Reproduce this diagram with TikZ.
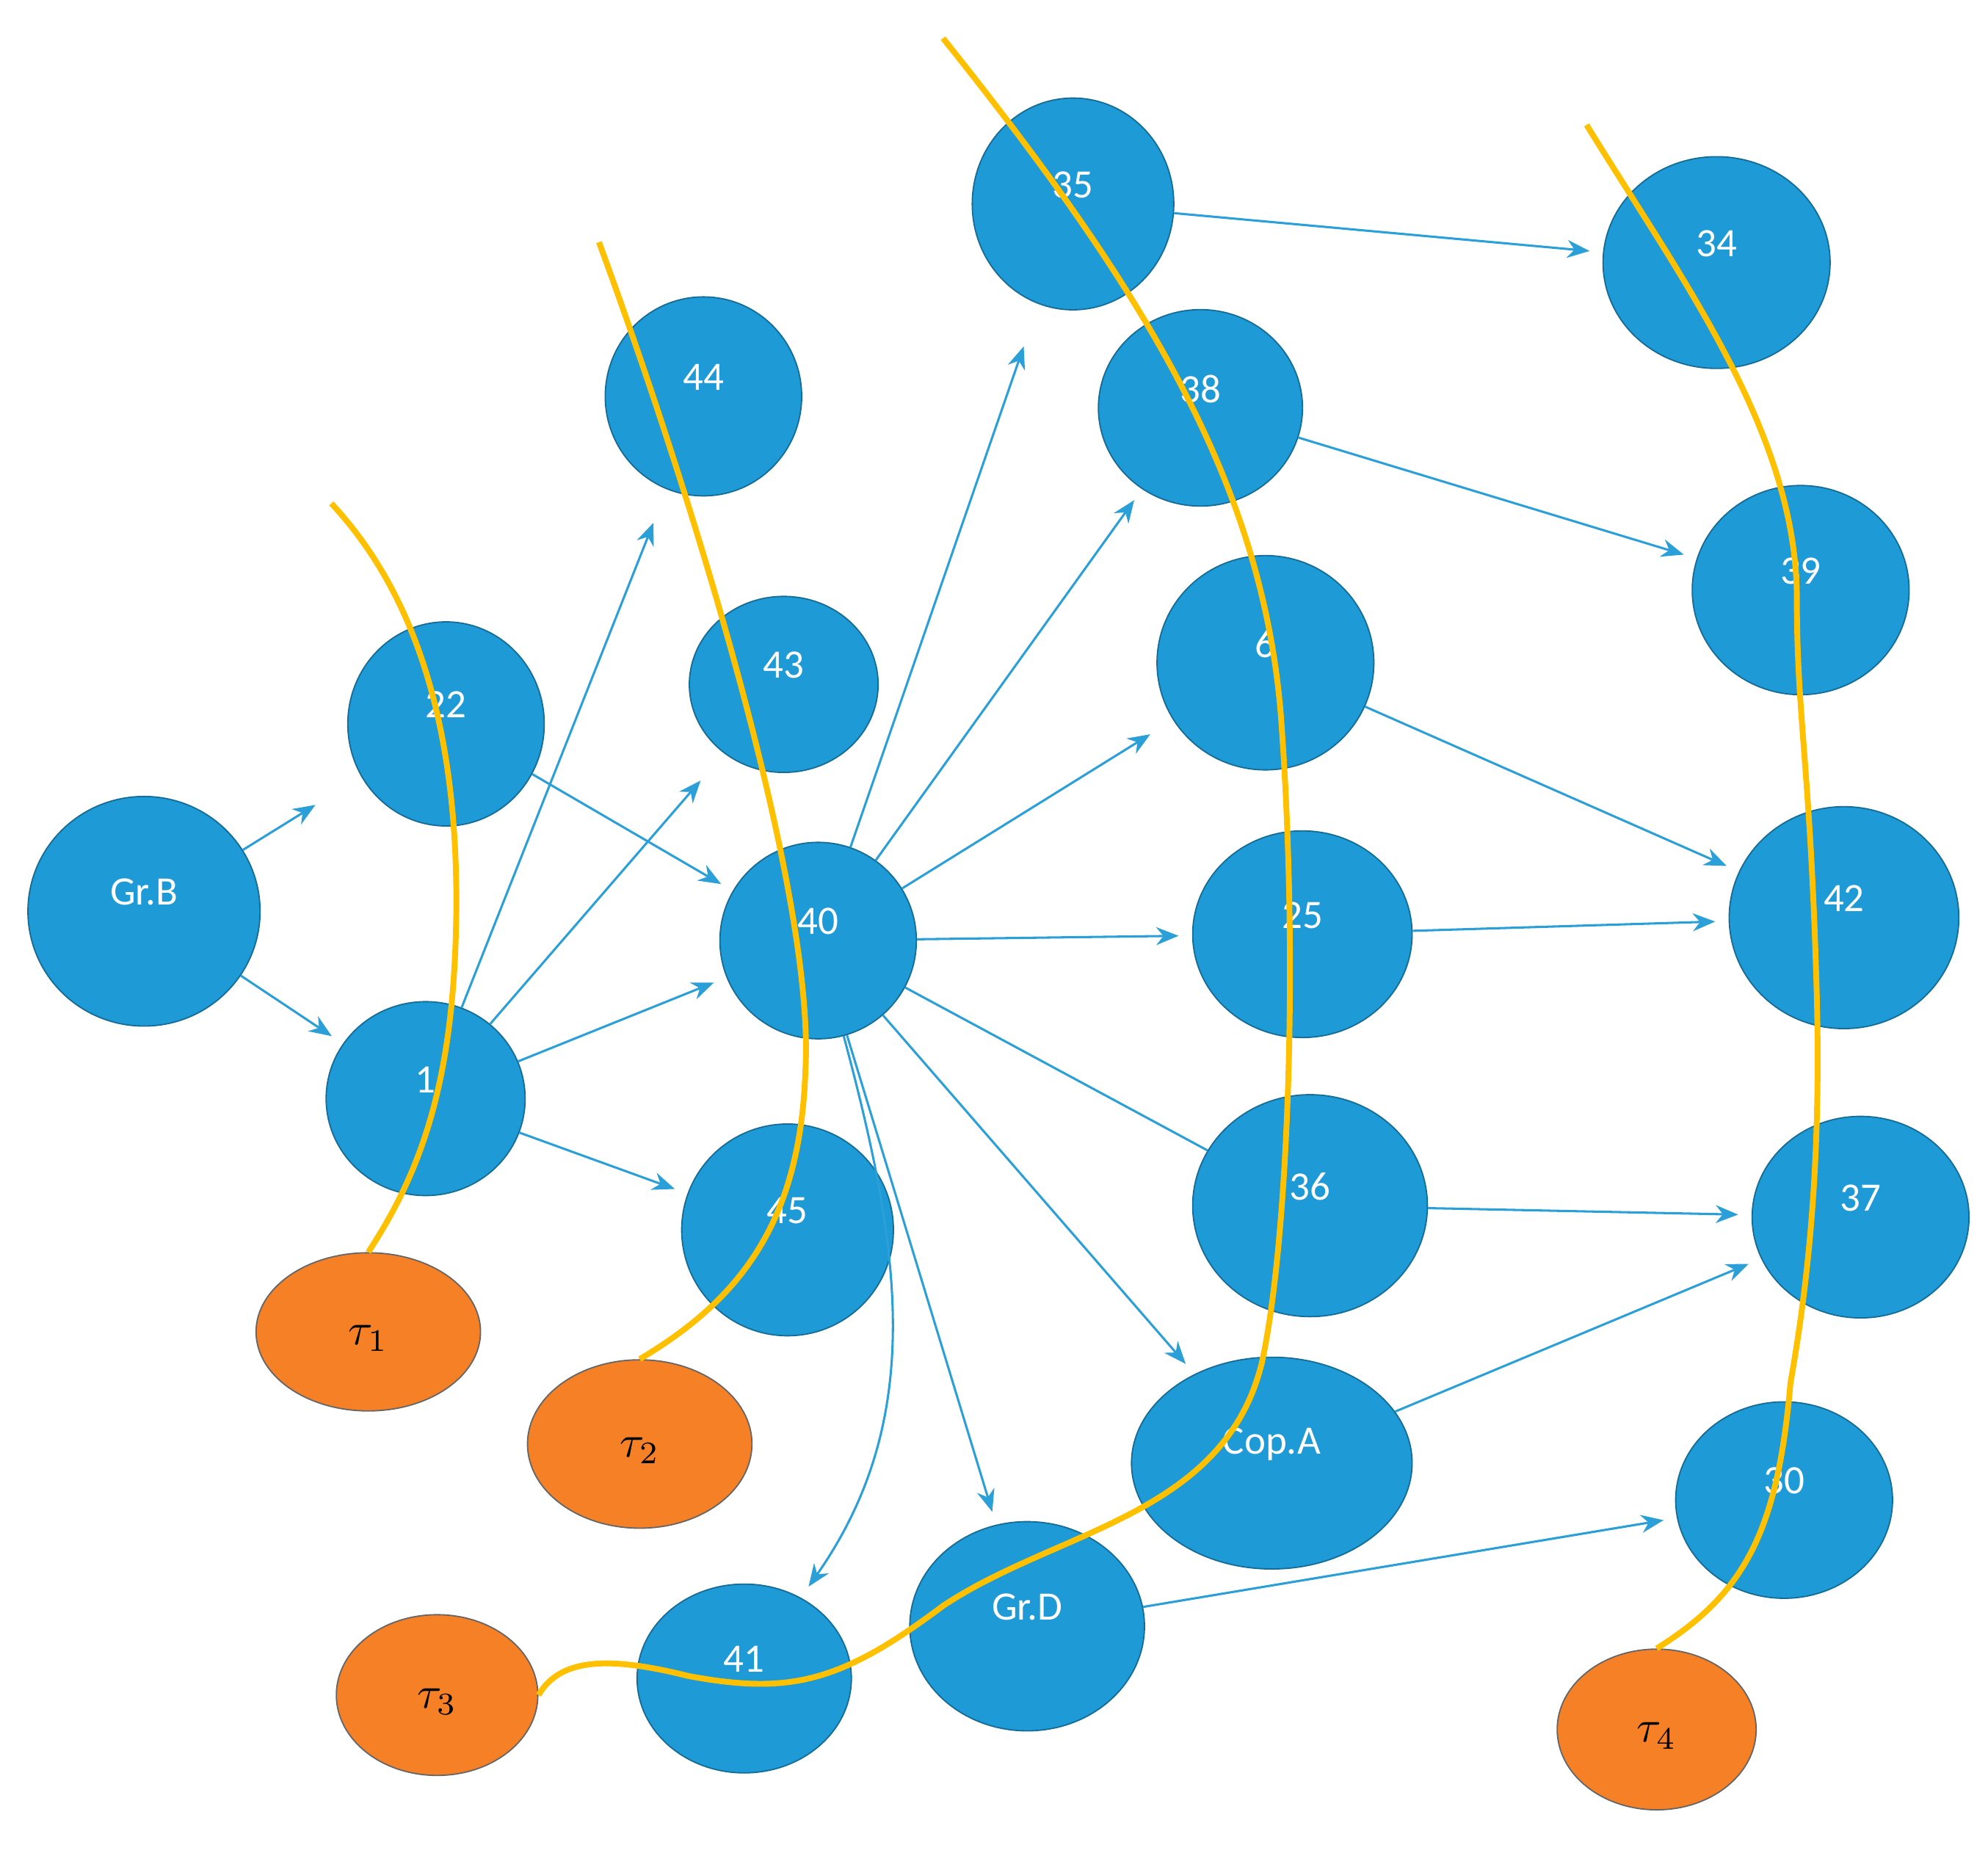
\documentclass[tikz,border=0pt]{standalone}
\usepackage{fontspec}
\setmainfont{Carlito}
\usetikzlibrary{shapes.geometric,arrows.meta}
\definecolor{nb}{HTML}{1E9AD6}
\definecolor{eb}{HTML}{2A9FD8}
\definecolor{tor}{HTML}{F58025}
\definecolor{yl}{HTML}{FFC000}
\begin{document}
\begin{tikzpicture}[x=0.01cm,y=-0.01cm,
 n/.style args={#1/#2/#3}{ellipse,draw=nb!70!black,line width=0.3pt,fill=nb,minimum width=#1*0.02cm,minimum height=#2*0.02cm,inner sep=0pt,
   label={[text=white,font=\fontsize{9}{10}\selectfont,yshift=0.15cm]center:#3}},
 t/.style args={#1/#2/#3}{ellipse,draw=black!60,line width=0.3pt,fill=tor,minimum width=#1*0.02cm,minimum height=#2*0.02cm,inner sep=0pt,font=\Large,
   label={[yshift=-0.05cm]center:$\tau_{#3}$}},
 e/.style={draw=eb,line width=0.5pt,-{Stealth[length=5pt,width=4pt]},shorten >=3pt},
 yc/.style={draw=yl,line width=1.3pt}]
\useasboundingbox (0,0) rectangle (1560,1456);
\node[n=91/90/Gr.B] (grb) at (113,715) {};
\node[n=77/80/22] (n22) at (350,568) {};
\node[n=78/76/1] (n1) at (334,862) {};
\node[n=77/78/44] (n44) at (552,311) {};
\node[n=74/69/43] (n43) at (615,537) {};
\node[n=77/77/40] (n40) at (642,738) {};
\node[n=83/83/45] (n45) at (618,965) {};
\node[n=79/83/35] (n35) at (842,160) {};
\node[n=80/77/38] (n38) at (942,320) {};
\node[n=85/84/6] (n6) at (993,520) {};
\node[n=86/81/25] (n25) at (1022,733) {};
\node[n=92/87/36] (n36) at (1028,946) {};
\node[n=110/83/Cop.A] (copa) at (998,1148) {};
\node[n=92/82/Gr.D] (grd) at (806,1276) {};
\node[n=84/74/41] (n41) at (584,1317) {};
\node[n=89/83/34] (n34) at (1347,206) {};
\node[n=85/82/39] (n39) at (1413,463) {};
\node[n=90/87/42] (n42) at (1447,720) {};
\node[n=85/79/37] (n37) at (1460,955) {};
\node[n=85/77/30] (n30) at (1400,1177) {};
\node[t=88/62/1] (t1) at (289,1045) {};
\node[t=88/66/2] (t2) at (502,1133) {};
\node[t=79/63/3] (t3) at (343,1330) {};
\node[t=78/63/4] (t4) at (1300,1357) {};
\draw[e,shorten >=12pt] (grb) -- (n22);
\draw[e] (grb) -- (n1);
\draw[e] (n22) -- (n40);
\draw[e,shorten >=8pt] (n1) -- (n44);
\draw[e,shorten >=8pt] (n1) -- (n43);
\draw[e] (n1) -- (n40);
\draw[e] (n1) -- (n45);
\draw[e,shorten >=10pt] (n40) -- (n35);
\draw[e] (n40) -- (n38);
\draw[e,shorten >=6pt] (n40) -- (n6);
\draw[e] (n40) -- (n25);
\draw[draw=eb,line width=0.5pt] (n40) -- (n36);
\draw[e] (n40) -- (copa);
\draw[e] (n40) -- (grd);
\draw[e] (n40) to[out=-75,in=55] (n41);
\draw[e] (n35) -- (n34);
\draw[e] (n38) -- (n39);
\draw[e] (n6) -- (n42);
\draw[e] (n25) -- (n42);
\draw[e] (n36) -- (n37);
\draw[e] (copa) -- (n37);
\draw[e] (grd) -- (n30);
\coordinate (y1) at (260,395);
\coordinate (y2) at (470,190);
\coordinate (y3) at (740,30);
\coordinate (y4) at (1245,98);
\draw[yc] (y1) .. controls (330,470) and (360,580) .. (358,720) .. controls (356,850) and (330,920) .. (t1.north);
\draw[yc] (y2) .. controls (540,380) and (640,700) .. (632,840) .. controls (628,960) and (580,1020) .. (t2.north);
\draw[yc] (y3) .. controls (900,230) and (990,380) .. (1005,560) .. controls (1020,760) and (1010,980) .. (990,1070) .. controls (960,1190) and (830,1200) .. (740,1260) .. controls (660,1320) and (620,1330) .. (540,1315) .. controls (480,1300) and (440,1300) .. (t3.east);
\draw[yc] (y4) .. controls (1320,220) and (1410,340) .. (1410,470) .. controls (1410,560) and (1420,600) .. (1425,760) .. controls (1430,900) and (1420,1000) .. (1405,1085) .. controls (1395,1200) and (1370,1250) .. (t4.north);
\end{tikzpicture}
\end{document}
